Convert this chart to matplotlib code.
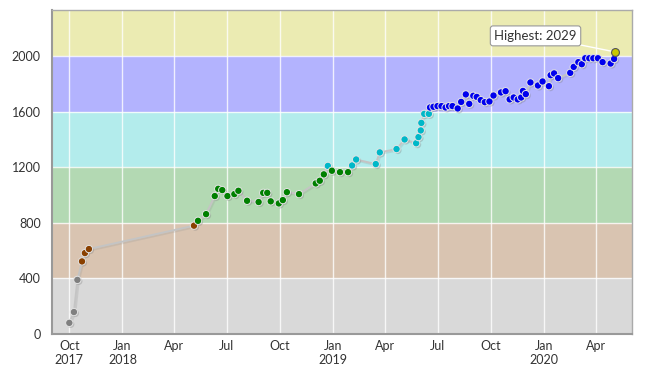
import matplotlib
matplotlib.use("Agg")
import matplotlib.pyplot as plt
import matplotlib.dates as mdates
import matplotlib.patheffects as pe
import numpy as np
import pandas as pd

plt.rcParams['font.family'] = ['Lato', 'DejaVu Sans']

dates = [
    "2017-10-01", "2017-10-09", "2017-10-15", "2017-10-23", "2017-10-28", "2017-11-04",
    "2018-05-05", "2018-05-12", "2018-05-26", "2018-06-10", "2018-06-16", "2018-06-23",
    "2018-07-02", "2018-07-14", "2018-07-21", "2018-08-05", "2018-08-25", "2018-09-02",
    "2018-09-09", "2018-09-15", "2018-09-29", "2018-10-06", "2018-10-13", "2018-11-03",
    "2018-12-02", "2018-12-09", "2018-12-16", "2018-12-23", "2018-12-30", "2019-01-13",
    "2019-01-27", "2019-02-03", "2019-02-10", "2019-03-16", "2019-03-23", "2019-04-21",
    "2019-05-05", "2019-05-25", "2019-05-29", "2019-06-02", "2019-06-03", "2019-06-08",
    "2019-06-16", "2019-06-18", "2019-06-24", "2019-07-01", "2019-07-08", "2019-07-15",
    "2019-07-21", "2019-07-27", "2019-08-05", "2019-08-11", "2019-08-19", "2019-08-25",
    "2019-09-01", "2019-09-07", "2019-09-14", "2019-09-21", "2019-09-29", "2019-10-06",
    "2019-10-19", "2019-10-27", "2019-11-03", "2019-11-10", "2019-11-17", "2019-11-23",
    "2019-11-26", "2019-12-01", "2019-12-09", "2019-12-22", "2019-12-30", "2020-01-10",
    "2020-01-13", "2020-01-19", "2020-01-26", "2020-02-16", "2020-02-22", "2020-03-01",
    "2020-03-07", "2020-03-13", "2020-03-20", "2020-03-27", "2020-04-04", "2020-04-12",
    "2020-04-26", "2020-05-02", "2020-05-03",
]
ratings = [
    80, 158, 389, 522, 582, 611,
    779, 814, 862, 992, 1044, 1035,
    992, 1006, 1030, 958, 949, 1015,
    1015, 954, 939, 963, 1020, 1006,
    1083, 1102, 1148, 1209, 1174, 1164,
    1164, 1212, 1255, 1222, 1306, 1330,
    1399, 1372, 1416, 1464, 1518, 1583,
    1583, 1629, 1634, 1639, 1639, 1629,
    1639, 1639, 1622, 1669, 1723, 1655,
    1713, 1705, 1682, 1667, 1672, 1715,
    1737, 1746, 1687, 1701, 1687, 1701,
    1748, 1725, 1809, 1787, 1816, 1782,
    1861, 1874, 1840, 1878, 1921, 1955,
    1940, 1983, 1983, 1983, 1983, 1955,
    1945, 1978, 2029,
]

band_edges = [0, 400, 800, 1200, 1600, 2000, 2330]
band_colors = ["#d9d9d9", "#d9c4b1", "#b3d9b3", "#b3ecec", "#b3b3fe", "#ebebb2"]
point_colors = ["#808080", "#8a4000", "#008000", "#00b8c8", "#0000ee", "#c8c800"]

x = pd.to_datetime(dates)
y = np.array(ratings)

fig = plt.figure(figsize=(6.47, 3.67), dpi=100)
ax = fig.add_axes([52/647, 33/367, 580/647, 324/367])

for i in range(len(band_colors)):
    ax.axhspan(band_edges[i], band_edges[i+1], color=band_colors[i], lw=0, zorder=0)
for e in band_edges[1:-1]:
    ax.axhline(e, color="white", lw=1, alpha=0.8, zorder=1)

ax.set_xlim(pd.Timestamp("2017-09-01"), pd.Timestamp("2020-06-02"))
ax.set_ylim(0, 2330)

ax.xaxis.set_major_locator(mdates.MonthLocator(bymonth=[1, 4, 7, 10]))
def fmt(v, pos):
    d = mdates.num2date(v)
    lab = d.strftime("%b")
    if d.month == 1 or (pos == 0):
        lab += "\n" + d.strftime("%Y")
    return lab
ax.xaxis.set_major_formatter(plt.FuncFormatter(fmt))
ax.set_yticks([0, 400, 800, 1200, 1600, 2000])
ax.grid(axis="x", color="white", lw=1, alpha=0.8, zorder=1)
ax.tick_params(length=0, labelsize=9, colors="#333333", pad=4)
ax.tick_params(axis="y", pad=8)

ax.plot(x, y, color="#c4c4c4", lw=1.4, zorder=3,
        path_effects=[pe.SimpleLineShadow(offset=(1, -1), shadow_color="#999999", alpha=0.25),
                      pe.Normal()])

cols = []
for v in y:
    k = min(int(v // 400), 5)
    cols.append(point_colors[k])
ax.scatter(x, y, s=28, c=cols, edgecolors="#e4e4e4", linewidths=0.7, zorder=4,
           path_effects=[pe.SimplePatchShadow(offset=(1, -1), shadow_rgbFace="#777777", alpha=0.3),
                         pe.Normal()])
ax.scatter([x[-1]], [y[-1]], s=32, c=[point_colors[5]], edgecolors="#555555",
           linewidths=0.8, zorder=5)

ax.annotate(f"Highest: {y.max()}", xy=(x[-1], y[-1]), xytext=(-57, 11.5),
            textcoords="offset points", ha="center", va="center", fontsize=9.5,
            color="#333333",
            bbox=dict(boxstyle="round,pad=0.3,rounding_size=0.2", fc="white", ec="#999999", lw=0.8),
            arrowprops=dict(arrowstyle="-", color="white", lw=1, shrinkA=0, shrinkB=3),
            zorder=6)

for s in ["top", "right"]:
    ax.spines[s].set_color("#aaaaaa")
    ax.spines[s].set_linewidth(1)
for s in ["left", "bottom"]:
    ax.spines[s].set_color("#999999")
    ax.spines[s].set_linewidth(1.5)

fig.savefig("out.png", dpi=100)
